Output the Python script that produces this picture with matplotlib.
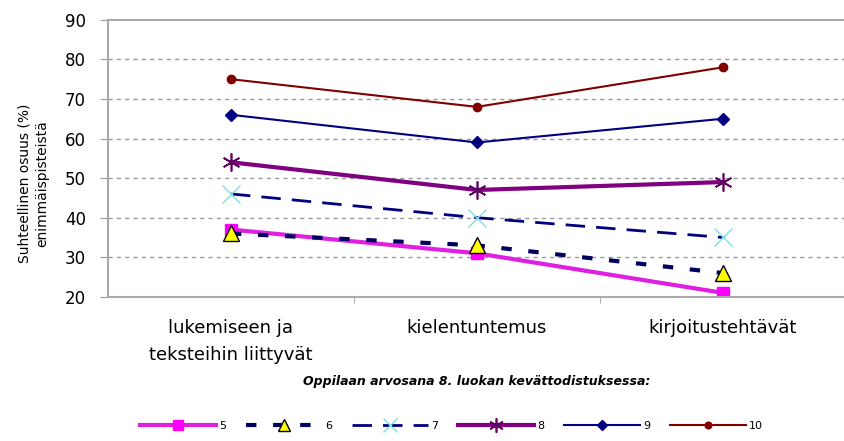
import matplotlib
matplotlib.use("Agg")
import matplotlib.pyplot as plt

plt.rcParams["font.family"] = ["DejaVu Sans"]

# Kategoriat ja sarjat (arvosana 8. luokan kevättodistuksessa)
categories = ["lukemiseen ja\nteksteihin liittyvät", "kielentuntemus", "kirjoitustehtävät"]
grades = ["5", "6", "7", "8", "9", "10"]
g5 = [37, 31, 21]
g6 = [36, 33, 26]
g7 = [46, 40, 35]
g8 = [54, 47, 49]
g9 = [66, 59, 65]
g10 = [75, 68, 78]
yticks = [20, 30, 40, 50, 60, 70, 80, 90]

styles = [
    dict(color="#E020E0", lw=3, ls="-", marker="s", ms=9, mfc="#FF00FF", mec="#FF00FF"),
    dict(color="#000060", lw=3, ls=(0, (2.5, 4)), marker="^", ms=11, mfc="#FFFF00", mec="black"),
    dict(color="#000080", lw=2, ls=(0, (7, 4)), marker="x", ms=13, mew=1, mfc="#80E0E0", mec="#80E0E0"),
    dict(color="#800080", lw=3, ls="-", marker=(6, 2, 0), ms=13, mew=1.2, mfc="#600060", mec="#600060"),
    dict(color="#000080", lw=1.5, ls="-", marker="D", ms=6, mfc="#000080", mec="#000080"),
    dict(color="#800000", lw=1.5, ls="-", marker="o", ms=6, mfc="#800000", mec="#800000"),
]

fig = plt.figure(figsize=(8.44, 4.41), dpi=100)
ax = fig.add_axes([0.128, 0.327, 0.874, 0.628])

x = range(len(categories))
for vals, lab, st in zip([g5, g6, g7, g8, g9, g10], grades, styles):
    ax.plot(x, vals, label=lab, **st)

ax.set_xlim(-0.5, 2.5)
ax.set_ylim(20, 90)
ax.set_yticks(yticks)
ax.set_xticks([0, 1, 2])
ax.set_xticklabels(categories, fontsize=13, linespacing=1.65)
ax.set_xticks([0.5, 1.5], minor=True)
ax.tick_params(axis="x", which="major", length=0, pad=16)
ax.tick_params(axis="x", which="minor", length=4, color="#999999")
ax.tick_params(axis="y", length=6, color="#999999", labelsize=12, pad=10)
for yv in yticks[1:-1]:
    ax.axhline(yv, color="#999999", lw=1, ls=(0, (3, 3)), zorder=0)
for s in ax.spines.values():
    s.set_color("#AAAAAA")
    s.set_linewidth(1.5)

ax.set_ylabel("Suhteellinen osuus (%)\nenimmäispisteistä", fontsize=10, linespacing=1.3)
ax.yaxis.set_label_coords(-0.08, 0.41)
ax.set_xlabel("Oppilaan arvosana 8. luokan kevättodistuksessa:", fontsize=9,
              fontweight="bold", fontstyle="italic", labelpad=8)

fig.legend(loc="lower center", bbox_to_anchor=(0.535, 0.0), ncol=6, frameon=False,
           fontsize=8, handlelength=6.8, columnspacing=1.8, handletextpad=0.3,
           markerscale=0.8)

fig.savefig("out.png", dpi=100)
